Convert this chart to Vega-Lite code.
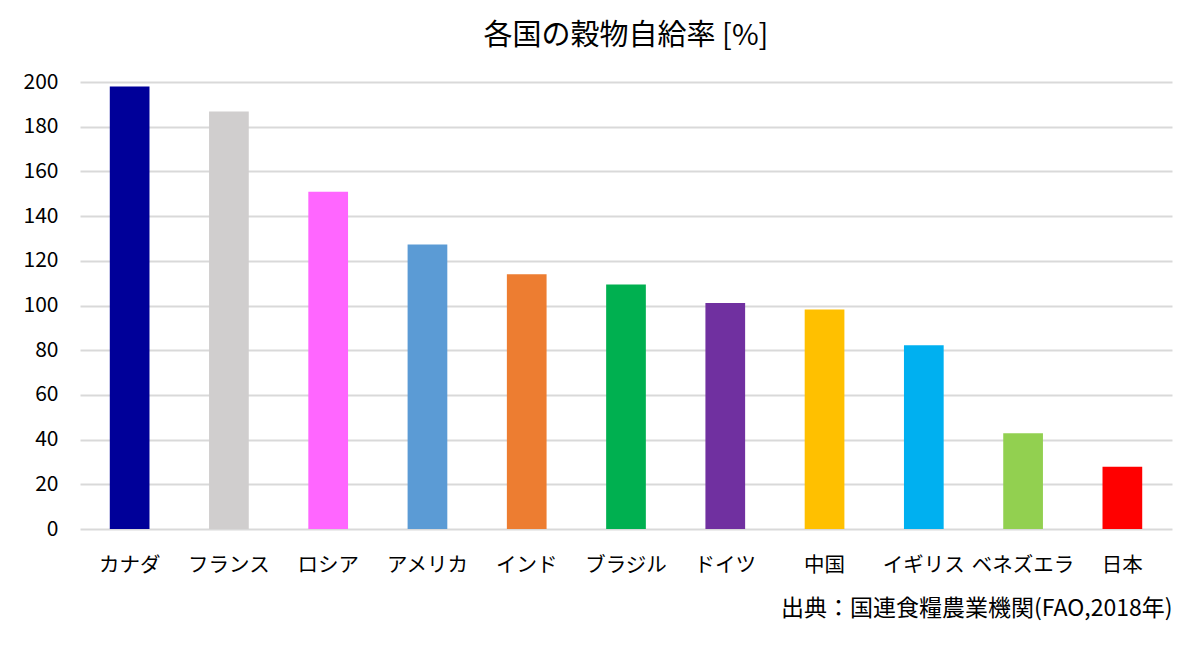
{
  "$schema": "https://vega.github.io/schema/vega-lite/v6.json",
  "width": 1092,
  "height": 447,
  "autosize": {"type": "none"},
  "padding": {"left": 80, "top": 82, "right": 28, "bottom": 117},
  "background": "#ffffff",
  "config": {"view": {"stroke": null}},
  "title": {
    "text": "各国の穀物自給率 [%]",
    "font": "Noto Sans CJK JP",
    "fontSize": 29,
    "fontWeight": "normal",
    "color": "#000000",
    "anchor": "middle",
    "offset": 20
  },
  "data": {
    "values": [
      {"country": "カナダ", "rate": 198.0, "color": "#000099"},
      {"country": "フランス", "rate": 186.8, "color": "#d0cece"},
      {"country": "ロシア", "rate": 150.9, "color": "#ff66ff"},
      {"country": "アメリカ", "rate": 127.3, "color": "#5b9bd5"},
      {"country": "インド", "rate": 114.0, "color": "#ed7d31"},
      {"country": "ブラジル", "rate": 109.4, "color": "#00b050"},
      {"country": "ドイツ", "rate": 101.1, "color": "#7030a0"},
      {"country": "中国", "rate": 98.2, "color": "#ffc000"},
      {"country": "イギリス", "rate": 82.2, "color": "#00b0f0"},
      {"country": "ベネズエラ", "rate": 42.8, "color": "#92d050"},
      {"country": "日本", "rate": 27.9, "color": "#ff0000"}
    ]
  },
  "mark": "bar",
  "encoding": {
    "x": {
      "field": "country",
      "type": "nominal",
      "sort": null,
      "scale": {"paddingInner": 0.6, "paddingOuter": 0.3},
      "title": "出典：国連食糧農業機関(FAO,2018年)",
      "axis": {
        "labelAngle": 0,
        "labelFont": "Noto Sans CJK JP",
        "labelFontSize": 20.5,
        "labelColor": "#000000",
        "labelPadding": 26,
        "ticks": false,
        "domain": false,
        "titleFont": "Noto Sans CJK JP",
        "titleFontSize": 23,
        "titleFontWeight": "normal",
        "titleColor": "#000000",
        "titleAnchor": "end",
        "titleAlign": "right",
        "titlePadding": 22
      }
    },
    "y": {
      "field": "rate",
      "type": "quantitative",
      "scale": {"domain": [0, 200], "nice": false},
      "title": null,
      "axis": {
        "values": [0, 20, 40, 60, 80, 100, 120, 140, 160, 180, 200],
        "labelFont": "Noto Sans CJK JP",
        "labelFontSize": 21,
        "labelColor": "#000000",
        "labelPadding": 22,
        "ticks": false,
        "domain": false,
        "gridColor": "#d9d9d9",
        "gridWidth": 2
      }
    },
    "color": {"field": "color", "type": "nominal", "scale": null, "legend": null}
  }
}
